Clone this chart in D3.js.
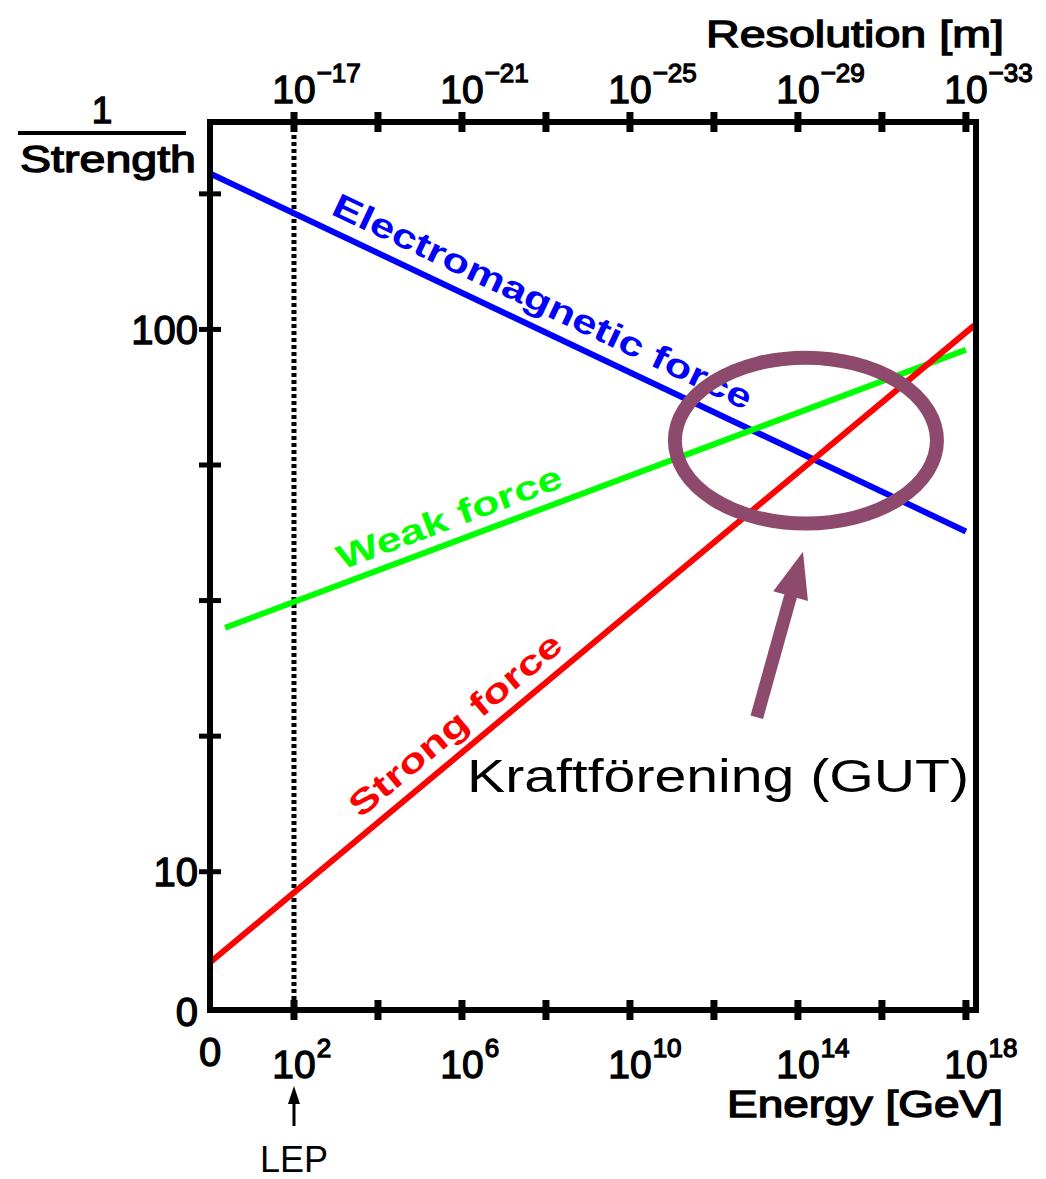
<!DOCTYPE html>
<html>
<head>
<meta charset="utf-8">
<script src="https://cdn.jsdelivr.net/npm/d3@7"></script>
<style>
  body { margin: 0; background: #fff; }
  text { font-family: "Liberation Sans", Arial, sans-serif; }
  .lbl { font-weight: normal; stroke: #000; stroke-width: 1.3px; fill: #000; }
</style>
</head>
<body>
<svg id="chart" width="1046" height="1179"></svg>
<script>
// Inverse coupling strength against log10(energy / GeV)
const emLogE = [0, 18];
const emInv = [61.5, 35.1];
const weakLogE = [0.36, 18];
const weakInv = [28.0, 48.5];
const strongLogE = [0, 18.2];
const strongInv = [3.3, 50.3];

// Axis ticks and their labels
const energyTicks = [2, 4, 6, 8, 10, 12, 14, 16, 18];
const energyLabels = [
  { v: 2, exp: "2" }, { v: 6, exp: "6" }, { v: 10, exp: "10" },
  { v: 14, exp: "14" }, { v: 18, exp: "18" }
];
const resolutionLabels = [
  { v: 2, exp: "\u221217" }, { v: 6, exp: "\u221221" }, { v: 10, exp: "\u221225" },
  { v: 14, exp: "\u221229" }, { v: 18, exp: "\u221233" }
];
const strengthTicks = [10, 20, 30, 40, 50, 60];
const strengthLabels = [
  { v: 0, text: "0" }, { v: 10, text: "10" }, { v: 50, text: "100" }
];
const lepLogE = 2;

// Unification annotation (data coordinates)
const gutCenter = [14.19, 41.8];
const gutRadius = [3.12, 6.12];
const gutArrowFrom = [13.02, 21.4];
const gutArrowTo = [14.12, 33.6];

(function draw() {
  const svg = d3.select("#chart");
  const plotLeft = 210, plotRight = 976, plotTop = 122, plotBottom = 1010;

  const x = d3.scaleLinear().domain([0, 18.24]).range([plotLeft, plotRight]);
  const y = d3.scaleLinear().domain([-0.2, 65.3]).range([plotBottom, plotTop]);

  const ink = "#000";
  const purple = "#8e4a6c";

  // Vertical dotted marker at the LEP energy
  svg.append("line")
    .attr("x1", x(lepLogE)).attr("x2", x(lepLogE))
    .attr("y1", plotTop + 6).attr("y2", plotBottom - 4)
    .attr("stroke", ink).attr("stroke-width", 5)
    .attr("stroke-dasharray", "4,3");

  // Coupling lines
  const line = d3.line().x(d => x(d[0])).y(d => y(d[1]));
  const series = [
    { xs: emLogE, vs: emInv, color: "#0000ff" },
    { xs: weakLogE, vs: weakInv, color: "#00ff00" },
    { xs: strongLogE, vs: strongInv, color: "#ff0000" }
  ];
  series.forEach(s => {
    svg.append("path")
      .attr("d", line(d3.zip(s.xs, s.vs)))
      .attr("fill", "none")
      .attr("stroke", s.color)
      .attr("stroke-width", 6);
  });

  // Labels running along each line
  function lineLabel(s, text, startLogE, len, off, size) {
    const ang = Math.atan2(y(s.vs[1]) - y(s.vs[0]), x(s.xs[1]) - x(s.xs[0])) * 180 / Math.PI;
    const v = s.vs[0] + (startLogE - s.xs[0]) * (s.vs[1] - s.vs[0]) / (s.xs[1] - s.xs[0]);
    svg.append("text")
      .attr("transform", `translate(${x(startLogE)},${y(v)}) rotate(${ang})`)
      .attr("y", -off)
      .attr("fill", s.color)
      .attr("font-size", size)
      .attr("font-weight", "bold")
      .attr("textLength", len)
      .attr("lengthAdjust", "spacingAndGlyphs")
      .text(text);
  }
  lineLabel(series[0], "Electromagnetic force", 2.7, 460, 15, 34);
  lineLabel(series[1], "Weak force", 3.25, 238, 13, 34);
  lineLabel(series[2], "Strong force", 3.8, 266, 14, 34);

  // Plot frame
  svg.append("rect")
    .attr("x", plotLeft).attr("y", plotTop)
    .attr("width", plotRight - plotLeft).attr("height", plotBottom - plotTop)
    .attr("fill", "none").attr("stroke", ink).attr("stroke-width", 6);

  // Tick marks crossing the frame
  svg.append("g").selectAll("line").data(energyTicks).join("line")
    .attr("x1", d => x(d)).attr("x2", d => x(d))
    .attr("y1", plotBottom - 10).attr("y2", plotBottom + 10)
    .attr("stroke", ink).attr("stroke-width", 7);
  svg.append("g").selectAll("line").data(energyTicks).join("line")
    .attr("x1", d => x(d)).attr("x2", d => x(d))
    .attr("y1", plotTop - 10).attr("y2", plotTop + 10)
    .attr("stroke", ink).attr("stroke-width", 7);
  svg.append("g").selectAll("line").data(strengthTicks).join("line")
    .attr("x1", plotLeft - 11).attr("x2", plotLeft + 11)
    .attr("y1", d => y(d)).attr("y2", d => y(d))
    .attr("stroke", ink).attr("stroke-width", 5);

  // Power-of-ten labels: base "10" centred on the tick, exponent raised after it
  function powerLabel(cx, baseY, exp) {
    const t = svg.append("text")
      .attr("class", "lbl")
      .attr("y", baseY)
      .attr("font-size", 39);
    const base = t.append("tspan").text("10");
    const w = base.node().getComputedTextLength();
    base.attr("x", cx - w / 2);
    t.append("tspan")
      .attr("dx", 1).attr("dy", -21)
      .attr("font-size", 26)
      .text(exp);
  }
  energyLabels.forEach(d => powerLabel(x(d.v), 1078, d.exp));
  resolutionLabels.forEach(d => powerLabel(x(d.v), 103, d.exp));

  // Origin label under the energy axis
  svg.append("text")
    .attr("class", "lbl")
    .attr("x", x(0)).attr("y", 1066)
    .attr("text-anchor", "middle")
    .attr("font-size", 40)
    .text("0");

  // Strength axis labels
  svg.append("g").selectAll("text").data(strengthLabels).join("text")
    .attr("class", "lbl")
    .attr("x", 198)
    .attr("y", d => (d.v === 0 ? y(d.v) + 4 : y(d.v)))
    .attr("dy", "0.36em")
    .attr("text-anchor", "end")
    .attr("font-size", 40)
    .text(d => d.text);

  // Axis titles
  svg.append("text")
    .attr("class", "lbl")
    .attr("x", 1004).attr("y", 47)
    .attr("text-anchor", "end")
    .attr("font-size", 37)
    .attr("textLength", 298).attr("lengthAdjust", "spacingAndGlyphs")
    .text("Resolution [m]");
  svg.append("text")
    .attr("class", "lbl")
    .attr("x", 1003).attr("y", 1117)
    .attr("text-anchor", "end")
    .attr("font-size", 36)
    .attr("textLength", 276).attr("lengthAdjust", "spacingAndGlyphs")
    .text("Energy [GeV]");

  // 1 / Strength
  svg.append("text")
    .attr("class", "lbl")
    .attr("x", 102).attr("y", 123)
    .attr("text-anchor", "middle")
    .attr("font-size", 37)
    .text("1");
  svg.append("line")
    .attr("x1", 18).attr("x2", 186).attr("y1", 133).attr("y2", 133)
    .attr("stroke", ink).attr("stroke-width", 4);
  svg.append("text")
    .attr("class", "lbl")
    .attr("x", 20).attr("y", 172)
    .attr("font-size", 37)
    .attr("textLength", 176).attr("lengthAdjust", "spacingAndGlyphs")
    .text("Strength");

  // LEP marker below the axis
  svg.append("line")
    .attr("x1", x(lepLogE)).attr("x2", x(lepLogE))
    .attr("y1", 1126).attr("y2", 1100)
    .attr("stroke", ink).attr("stroke-width", 3);
  svg.append("path")
    .attr("d", d3.line()([[x(lepLogE) - 6, 1104], [x(lepLogE), 1086], [x(lepLogE) + 6, 1104]]) + "Z")
    .attr("fill", ink);
  svg.append("text")
    .attr("x", x(lepLogE)).attr("y", 1172)
    .attr("text-anchor", "middle")
    .attr("font-size", 36)
    .text("LEP");

  // Unification region
  svg.append("ellipse")
    .attr("cx", x(gutCenter[0])).attr("cy", y(gutCenter[1]))
    .attr("rx", x(gutRadius[0]) - x(0)).attr("ry", y(0) - y(gutRadius[1]))
    .attr("fill", "none").attr("stroke", purple).attr("stroke-width", 14);

  // Arrow pointing at the region
  const ax0 = x(gutArrowFrom[0]), ay0 = y(gutArrowFrom[1]);
  const ax1 = x(gutArrowTo[0]), ay1 = y(gutArrowTo[1]);
  const ang = Math.atan2(ay1 - ay0, ax1 - ax0);
  const headLen = 46, headHalf = 18;
  const bx = ax1 - headLen * Math.cos(ang), by = ay1 - headLen * Math.sin(ang);
  svg.append("line")
    .attr("x1", ax0).attr("y1", ay0)
    .attr("x2", bx + 4 * Math.cos(ang)).attr("y2", by + 4 * Math.sin(ang))
    .attr("stroke", purple).attr("stroke-width", 13);
  svg.append("path")
    .attr("d", d3.line()([
      [ax1, ay1],
      [bx - headHalf * Math.sin(ang), by + headHalf * Math.cos(ang)],
      [bx + headHalf * Math.sin(ang), by - headHalf * Math.cos(ang)]
    ]) + "Z")
    .attr("fill", purple);

  svg.append("text")
    .attr("x", 467).attr("y", 792)
    .attr("font-family", "'DejaVu Sans', sans-serif")
    .attr("font-size", 46)
    .attr("textLength", 502).attr("lengthAdjust", "spacingAndGlyphs")
    .attr("fill", "#000")
    .text("Kraftförening (GUT)");
})();
</script>
</body>
</html>
